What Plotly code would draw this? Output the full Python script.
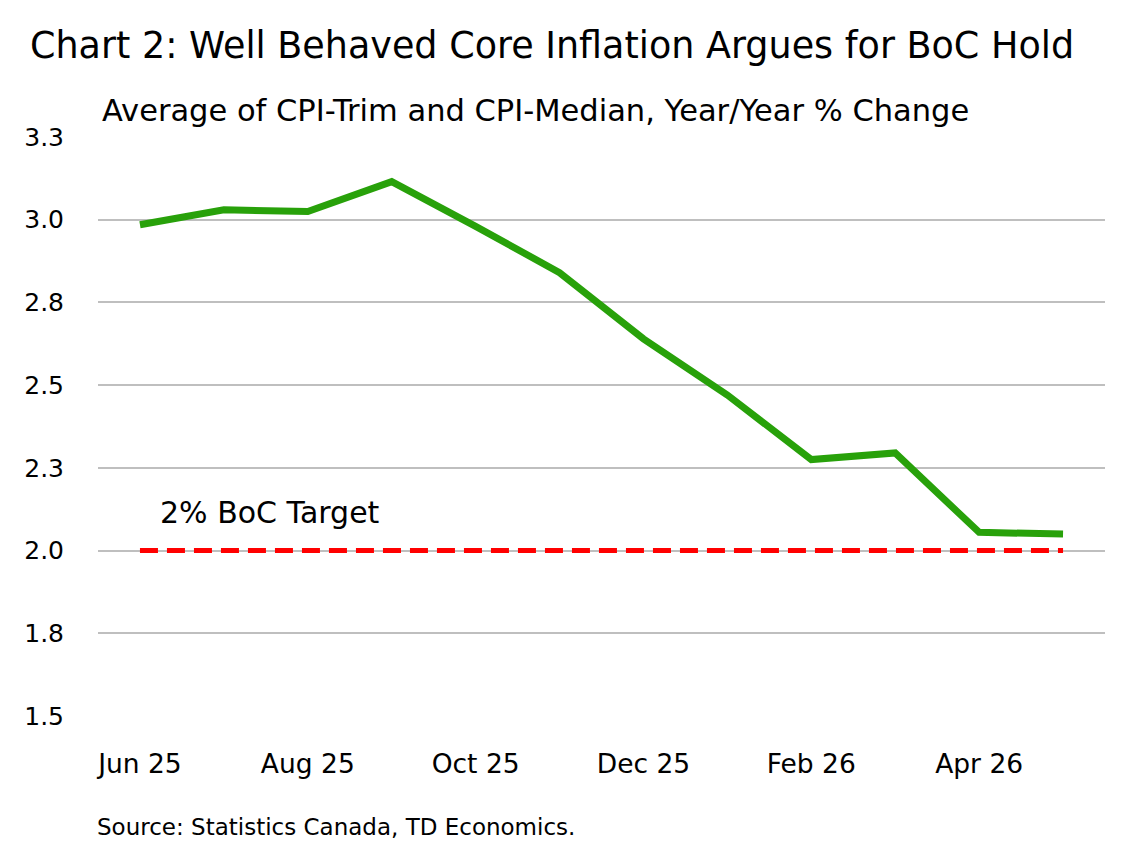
import plotly.graph_objects as go

months = ["Jun 25", "Jul 25", "Aug 25", "Sep 25", "Oct 25", "Nov 25", "Dec 25",
          "Jan 26", "Feb 26", "Mar 26", "Apr 26", "May 26"]
core_avg = [2.985, 3.03, 3.025, 3.115, 2.98, 2.84, 2.64, 2.47, 2.275, 2.295, 2.055, 2.05]
target = [2.0] * len(months)

y_tickvals = [1.5, 1.75, 2.0, 2.25, 2.5, 2.75, 3.0, 3.25]
y_ticktext = ["1.5", "1.8", "2.0", "2.3", "2.5", "2.8", "3.0", "3.3"]
x_tickvals = ["Jun 25", "Aug 25", "Oct 25", "Dec 25", "Feb 26", "Apr 26"]

FONT = "DejaVu Sans"

fig = go.Figure()
fig.add_trace(go.Scatter(x=months, y=target, mode="lines",
                         line=dict(color="#FF0000", width=5, dash="18px,9px"),
                         hoverinfo="skip", showlegend=False))
fig.add_trace(go.Scatter(x=months, y=core_avg, mode="lines",
                         line=dict(color="#28A10A", width=7),
                         showlegend=False))

fig.update_layout(
    width=1138, height=849,
    margin=dict(l=98, r=33, t=137, b=133),
    paper_bgcolor="white", plot_bgcolor="white",
    font=dict(family=FONT, color="#000000"),
    title=dict(text="Chart 2: Well Behaved Core Inflation Argues for BoC Hold",
               x=30 / 1138, xanchor="left", xref="container",
               y=1 - 45 / 849, yanchor="middle", yref="container",
               font=dict(size=36.5, family=FONT, color="#000")),
    xaxis=dict(type="category", range=[-0.5, 11.5], tickvals=x_tickvals,
               showgrid=False, zeroline=False, showline=False,
               ticks="", ticklabelstandoff=29,
               tickfont=dict(size=26.5, family=FONT, color="#000")),
    yaxis=dict(range=[1.5, 3.25], tickvals=y_tickvals, ticktext=y_ticktext,
               showgrid=True, gridcolor="#BFBFBF", gridwidth=1.5,
               zeroline=False, showline=False, ticks="", ticklabelstandoff=33,
               tickfont=dict(size=25, family=FONT, color="#000")),
    annotations=[
        dict(text="Average of CPI-Trim and CPI-Median, Year/Year % Change",
             xref="paper", yref="paper", x=2 / 1007, y=1 + 27 / 579,
             xanchor="left", yanchor="middle", showarrow=False,
             font=dict(size=30.5, family=FONT, color="#000")),
        dict(text="2% BoC Target", xref="x", yref="y", x=1.55, y=2.115,
             xanchor="center", yanchor="middle", showarrow=False,
             font=dict(size=30, family=FONT, color="#000")),
        dict(text="Source: Statistics Canada, TD Economics.",
             xref="paper", yref="paper", x=-3 / 1007, y=-(827 - 716) / 579,
             xanchor="left", yanchor="middle", showarrow=False,
             font=dict(size=23, family=FONT, color="#000")),
    ],
)

fig.write_html("out.html")
